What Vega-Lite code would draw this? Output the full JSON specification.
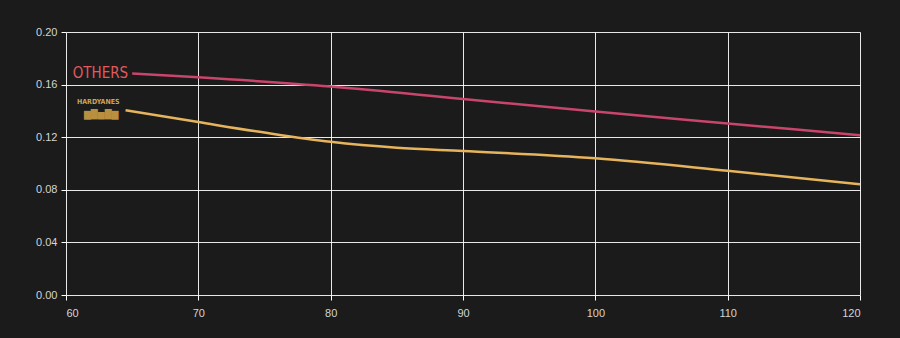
{
  "$schema": "https://vega.github.io/schema/vega-lite/v6.json",
  "width": 794,
  "height": 263,
  "autosize": {"type": "none"},
  "padding": {"left": 66, "top": 32, "right": 40, "bottom": 43},
  "background": "#1b1b1b",
  "config": {
    "view": {"stroke": null},
    "axis": {
      "gridColor": "#ffffff",
      "gridOpacity": 0.9,
      "gridWidth": 1,
      "tickColor": "#ffffff",
      "tickSize": 5,
      "domain": false,
      "labelColor": "#d4d4d4",
      "labelFont": "Liberation Sans",
      "labelFontSize": 11,
      "title": null
    }
  },
  "datasets": {
    "lines": [
      {"x": 65, "y": 0.1685, "series": "OTHERS"},
      {"x": 70, "y": 0.1655, "series": "OTHERS"},
      {"x": 80, "y": 0.1585, "series": "OTHERS"},
      {"x": 90, "y": 0.149, "series": "OTHERS"},
      {"x": 100, "y": 0.1395, "series": "OTHERS"},
      {"x": 110, "y": 0.1305, "series": "OTHERS"},
      {"x": 120, "y": 0.1215, "series": "OTHERS"},
      {"x": 64.5, "y": 0.1405, "series": "HARDYANES"},
      {"x": 70, "y": 0.1315, "series": "HARDYANES"},
      {"x": 75, "y": 0.1235, "series": "HARDYANES"},
      {"x": 80, "y": 0.1165, "series": "HARDYANES"},
      {"x": 85, "y": 0.112, "series": "HARDYANES"},
      {"x": 90, "y": 0.1095, "series": "HARDYANES"},
      {"x": 100, "y": 0.104, "series": "HARDYANES"},
      {"x": 110, "y": 0.0945, "series": "HARDYANES"},
      {"x": 120, "y": 0.0842, "series": "HARDYANES"}
    ],
    "labels": [
      {"x": 65, "y": 0.1685, "label": "OTHERS", "series": "OTHERS"},
      {"x": 64.5, "y": 0.1405, "label": "HARDYANES", "series": "HARDYANES"}
    ]
  },
  "layer": [
    {
      "data": {"name": "lines"},
      "mark": {"type": "line", "interpolate": "monotone", "strokeWidth": 2.5, "clip": true},
      "encoding": {
        "x": {"field": "x", "type": "quantitative", "scale": {"domain": [60, 120], "nice": false, "zero": false}, "axis": {"values": [60, 70, 80, 90, 100, 110, 120], "labelPadding": 7}},
        "y": {"field": "y", "type": "quantitative", "scale": {"domain": [0, 0.2], "nice": false}, "axis": {"values": [0, 0.04, 0.08, 0.12, 0.16, 0.2], "format": ".2f", "labelPadding": 4}},
        "color": {"field": "series", "type": "nominal", "scale": {"domain": ["OTHERS", "HARDYANES"], "range": ["#c9456b", "#e6b45c"]}, "legend": null}
      }
    },
    {
      "data": {"name": "labels"},
      "transform": [{"filter": "datum.series == 'OTHERS'"}],
      "mark": {"type": "text", "align": "right", "baseline": "middle", "dx": -4, "dy": 0, "fontSize": 15, "font": "DejaVu Sans Condensed", "color": "#e05a5e"},
      "encoding": {
        "x": {"field": "x", "type": "quantitative"},
        "y": {"field": "y", "type": "quantitative"},
        "text": {"field": "label"}
      }
    },
    {
      "data": {"name": "labels"},
      "transform": [{"filter": "datum.series == 'HARDYANES'"}],
      "mark": {"type": "text", "align": "right", "baseline": "middle", "dx": -6, "dy": -8, "fontSize": 7, "fontWeight": "bold", "font": "DejaVu Sans Condensed", "color": "#c9a55a"},
      "encoding": {
        "x": {"field": "x", "type": "quantitative"},
        "y": {"field": "y", "type": "quantitative"},
        "text": {"field": "label"}
      }
    },
    {
      "data": {"name": "labels"},
      "transform": [{"filter": "datum.series == 'HARDYANES'"}],
      "mark": {"type": "text", "align": "right", "baseline": "middle", "dx": -7, "dy": 4, "fontSize": 10, "font": "DejaVu Sans Condensed", "color": "#b89040", "text": "▆▇▅▇▆"},
      "encoding": {
        "x": {"field": "x", "type": "quantitative"},
        "y": {"field": "y", "type": "quantitative"}
      }
    }
  ]
}
